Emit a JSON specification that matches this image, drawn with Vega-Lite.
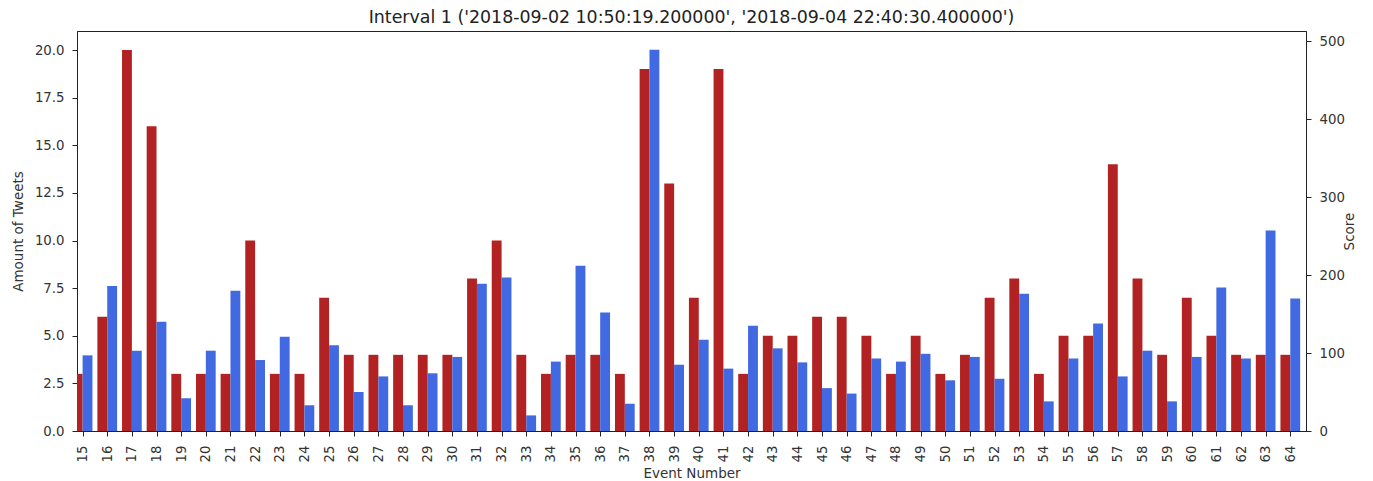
{
  "$schema": "https://vega.github.io/schema/vega-lite/v6.json",
  "width": 1229,
  "height": 400,
  "autosize": {"type": "none"},
  "padding": {"left": 77, "top": 31, "right": 67, "bottom": 50},
  "title": {"text": "Interval 1 ('2018-09-02 10:50:19.200000', '2018-09-04 22:40:30.400000')", "font": "DejaVu Sans", "fontSize": 17.4, "fontWeight": "normal", "color": "#222", "offset": 5},
  "config": {
    "view": {"stroke": "#222", "strokeWidth": 1},
    "font": "DejaVu Sans",
    "axis": {"labelFont": "DejaVu Sans", "labelFontSize": 13.3, "labelColor": "#333", "titleFont": "DejaVu Sans", "titleFontSize": 13.5, "titleFontWeight": "normal", "titleColor": "#333", "domainColor": "#222", "tickColor": "#222", "tickSize": 5, "labelPadding": 8, "grid": false}
  },
  "data": {"values": [
    {"event": 15, "tweets": 3, "score": 97},
    {"event": 16, "tweets": 6, "score": 186},
    {"event": 17, "tweets": 20, "score": 103},
    {"event": 18, "tweets": 16, "score": 140},
    {"event": 19, "tweets": 3, "score": 42},
    {"event": 20, "tweets": 3, "score": 103},
    {"event": 21, "tweets": 3, "score": 180},
    {"event": 22, "tweets": 10, "score": 91},
    {"event": 23, "tweets": 3, "score": 121},
    {"event": 24, "tweets": 3, "score": 33},
    {"event": 25, "tweets": 7, "score": 110},
    {"event": 26, "tweets": 4, "score": 50},
    {"event": 27, "tweets": 4, "score": 70},
    {"event": 28, "tweets": 4, "score": 33},
    {"event": 29, "tweets": 4, "score": 74},
    {"event": 30, "tweets": 4, "score": 95},
    {"event": 31, "tweets": 8, "score": 189},
    {"event": 32, "tweets": 10, "score": 197},
    {"event": 33, "tweets": 4, "score": 20},
    {"event": 34, "tweets": 3, "score": 89},
    {"event": 35, "tweets": 4, "score": 212},
    {"event": 36, "tweets": 4, "score": 152},
    {"event": 37, "tweets": 3, "score": 35},
    {"event": 38, "tweets": 19, "score": 489},
    {"event": 39, "tweets": 13, "score": 85},
    {"event": 40, "tweets": 7, "score": 117},
    {"event": 41, "tweets": 19, "score": 80},
    {"event": 42, "tweets": 3, "score": 135},
    {"event": 43, "tweets": 5, "score": 106},
    {"event": 44, "tweets": 5, "score": 88},
    {"event": 45, "tweets": 6, "score": 55},
    {"event": 46, "tweets": 6, "score": 48},
    {"event": 47, "tweets": 5, "score": 93},
    {"event": 48, "tweets": 3, "score": 89},
    {"event": 49, "tweets": 5, "score": 99},
    {"event": 50, "tweets": 3, "score": 65},
    {"event": 51, "tweets": 4, "score": 95},
    {"event": 52, "tweets": 7, "score": 67},
    {"event": 53, "tweets": 8, "score": 176},
    {"event": 54, "tweets": 3, "score": 38},
    {"event": 55, "tweets": 5, "score": 93},
    {"event": 56, "tweets": 5, "score": 138},
    {"event": 57, "tweets": 14, "score": 70},
    {"event": 58, "tweets": 8, "score": 103},
    {"event": 59, "tweets": 4, "score": 38},
    {"event": 60, "tweets": 7, "score": 95},
    {"event": 61, "tweets": 5, "score": 184},
    {"event": 62, "tweets": 4, "score": 93},
    {"event": 63, "tweets": 4, "score": 257},
    {"event": 64, "tweets": 4, "score": 170}
  ]},
  "encoding": {
    "x": {"field": "event", "type": "quantitative",
      "scale": {"domain": [14.773, 64.637], "nice": false, "zero": false, "padding": 0},
      "axis": {"values": [15,16,17,18,19,20,21,22,23,24,25,26,27,28,29,30,31,32,33,34,35,36,37,38,39,40,41,42,43,44,45,46,47,48,49,50,51,52,53,54,55,56,57,58,59,60,61,62,63,64],
        "format": "d", "labelAngle": 270, "labelAlign": "right", "labelBaseline": "middle", "title": "Event Number", "titlePadding": 5, "labelPadding": 9}}
  },
  "layer": [
    {
      "mark": {"type": "bar", "orient": "vertical", "width": 9.86, "xOffset": -4.93, "color": "#b22222", "clip": true},
      "encoding": {
        "y": {"field": "tweets", "type": "quantitative",
          "scale": {"domain": [0, 21], "nice": false},
          "axis": {"orient": "left", "values": [0, 2.5, 5, 7.5, 10, 12.5, 15, 17.5, 20], "format": ".1f", "title": "Amount of Tweets", "titlePadding": 9}}
      }
    },
    {
      "mark": {"type": "bar", "orient": "vertical", "width": 9.86, "xOffset": 4.93, "color": "#4169e1", "clip": true},
      "encoding": {
        "y": {"field": "score", "type": "quantitative",
          "scale": {"domain": [0, 513], "nice": false},
          "axis": {"orient": "right", "values": [0, 100, 200, 300, 400, 500], "format": "d", "title": "Score", "titleAngle": 270, "titlePadding": 12}}
      }
    }
  ],
  "resolve": {"scale": {"y": "independent"}}
}
